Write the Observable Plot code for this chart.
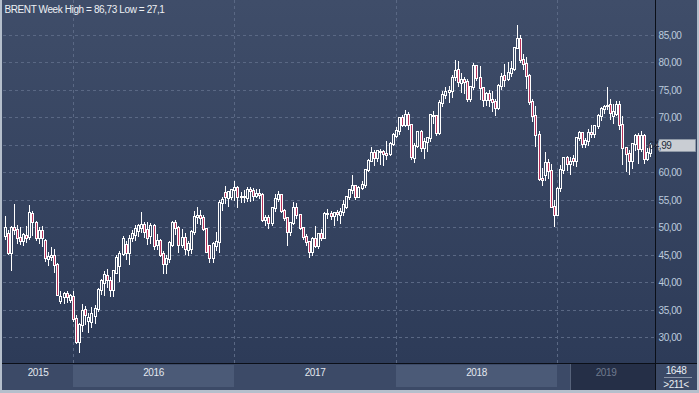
<!DOCTYPE html>
<html><head><meta charset="utf-8">
<script src="https://cdn.jsdelivr.net/npm/d3@7"></script>
<script src="https://cdn.jsdelivr.net/npm/@observablehq/plot@0.6"></script>
<style>
html,body{margin:0;padding:0;background:#b5bfcc;overflow:hidden;}
#chart{position:absolute;left:0;top:0;width:699px;height:393px;}
#chart svg{display:block;}
#chart svg text{letter-spacing:-0.4px;}
</style></head><body><div id="chart"></div>
<script>
const title = "BRENT Week High = 86,73 Low = 27,1";
const open = [
48.4,48.9,45.4,49.9,49.6,48.1,47.5,48.5,48.2,52.4,
50.9,48.0,49.3,47.5,44.3,44.6,44.9,43.2,36.6,37.3,
37.9,36.9,37.4,33.3,29.1,32.3,35.0,33.0,32.8,33.9,
35.1,38.6,39.9,41.2,40.2,38.6,41.8,43.0,45.1,46.9,
45.4,48.0,48.7,49.3,49.9,50.4,49.5,48.5,50.2,46.8,
47.6,45.2,43.3,44.3,46.9,50.8,49.9,46.9,48.0,45.9,
46.0,49.1,51.9,52.0,51.7,49.7,46.6,44.4,46.6,47.3,
54.4,56.2,55.3,55.6,56.8,57.1,55.5,55.5,55.3,56.8,
56.7,55.8,56.0,55.9,51.4,51.7,50.8,53.5,55.2,55.9,
53.0,51.7,49.1,50.8,53.6,52.2,49.9,48.2,47.4,45.5,
47.9,46.7,48.9,48.1,52.5,52.4,52.0,52.7,52.2,52.8,
53.8,55.6,56.9,57.5,55.6,57.2,57.7,60.4,62.1,63.6,
62.7,63.8,63.7,63.4,63.3,65.2,66.6,67.6,69.9,68.6,
70.5,68.6,62.6,64.8,67.4,64.4,65.5,66.2,70.3,70.2,
67.1,72.6,74.0,74.6,74.8,77.3,78.6,76.2,76.8,76.5,
73.4,75.5,79.4,77.1,75.3,73.1,74.3,73.2,72.8,71.8,
75.8,77.5,77.0,78.1,78.8,82.7,84.2,80.4,79.8,77.6,
72.8,70.2,66.8,58.8,59.5,61.7,60.3,53.8,52.2,57.1,
60.5,62.7,61.6,62.5,62.1,66.2,67.1,65.1,65.7,67.2,
67.0,68.4,70.3,71.6,72.0,72.2,70.2,70.6,72.2,68.7,
64.5,63.3,62.0,65.2,66.6,64.2,66.7,62.5,63.5];
const high = [
52.0,49.6,50.3,54.3,50.5,50.1,49.0,50.2,54.0,53.0,
51.2,50.0,50.2,47.9,45.6,46.5,46.0,43.5,38.5,38.3,
38.4,37.9,38.5,34.0,32.7,36.0,35.8,34.5,35.5,35.9,
39.0,40.6,42.0,42.5,41.0,42.3,45.0,45.8,48.5,47.6,
48.6,49.5,50.5,50.6,52.9,51.0,51.0,50.8,50.6,48.9,
47.9,45.8,45.0,47.5,51.2,51.3,50.3,49.7,49.0,47.6,
49.5,53.0,53.7,53.2,52.3,49.9,46.9,47.3,49.2,55.0,
55.5,57.6,56.5,57.0,58.4,57.6,56.4,56.8,57.3,57.3,
57.1,57.0,57.0,56.2,52.2,52.3,53.8,56.1,56.6,56.0,
53.3,51.9,51.0,54.7,54.5,52.3,50.0,48.9,47.5,48.2,
50.2,49.0,49.7,52.8,53.3,53.0,52.8,53.1,53.5,55.0,
55.8,57.0,59.5,57.7,57.5,58.5,60.6,62.4,64.7,64.0,
64.0,64.3,64.0,65.8,65.5,67.1,68.3,70.05,70.4,71.3,
71.0,68.8,65.3,67.6,67.8,66.3,66.4,70.6,71.2,70.3,
73.1,74.75,75.5,75.8,77.7,80.5,80.2,78.0,77.4,77.0,
75.7,79.9,79.6,79.4,75.5,74.6,75.0,74.8,73.3,76.0,
78.1,79.7,80.1,80.3,82.9,86.73,85.0,81.5,81.0,77.9,
73.3,72.0,67.5,60.9,63.8,62.5,61.5,55.0,57.3,61.3,
62.9,63.0,62.8,63.1,66.4,67.6,67.3,66.3,67.9,68.7,
68.5,70.6,71.9,72.3,75.6,73.4,72.5,73.0,73.0,70.2,
64.6,64.0,65.4,67.0,67.1,67.5,67.0,64.4,65.4];
const low = [
47.8,45.0,42.1,48.6,47.0,46.8,46.6,47.2,47.8,48.5,
47.6,47.0,46.5,43.7,43.0,43.9,41.7,37.6,36.0,36.1,
36.2,36.3,32.9,28.8,27.1,31.0,32.3,30.9,31.7,32.5,
34.7,37.8,37.6,39.0,37.3,37.4,41.5,40.1,44.8,44.0,
43.2,47.4,47.6,48.3,49.0,48.1,46.8,47.0,45.9,45.9,
44.6,41.6,41.5,43.5,46.5,48.6,45.3,46.2,45.0,44.9,
45.1,48.6,50.6,50.5,49.3,45.3,43.6,43.5,45.8,45.4,
53.0,54.2,53.8,55.0,54.9,53.6,54.5,54.4,54.6,54.7,
54.9,55.4,55.1,51.0,50.3,49.7,50.3,52.9,54.6,52.6,
51.1,46.6,48.4,50.4,51.6,49.5,47.7,46.6,44.4,44.8,
46.3,46.0,47.6,48.0,51.6,51.3,50.2,51.2,50.6,52.1,
53.4,55.0,56.1,55.0,55.3,56.9,57.2,60.1,61.9,61.1,
61.9,61.3,61.1,62.2,63.0,64.9,66.2,66.8,68.3,68.3,
67.8,62.2,61.8,64.4,63.8,62.4,63.8,65.5,68.9,66.6,
66.8,71.9,73.3,72.6,73.5,76.7,75.5,74.5,74.3,72.9,
72.8,75.0,76.7,73.2,71.9,72.1,71.9,71.0,70.3,71.4,
75.0,75.6,76.6,77.4,78.5,82.6,79.9,78.6,75.1,72.2,
69.2,64.6,58.4,57.5,58.4,58.9,53.5,50.0,52.0,56.5,
59.7,60.2,59.6,61.2,61.0,65.7,64.4,64.5,64.8,66.3,
66.2,67.9,69.3,70.6,71.4,69.5,68.9,70.2,67.7,61.4,
60.0,59.5,60.6,63.9,61.5,63.8,61.6,62.0,62.8];
const close = [
49.9,45.4,49.9,49.6,48.1,47.5,48.6,48.1,52.6,51.0,
48.0,49.4,48.0,44.4,44.6,44.9,43.2,37.8,37.4,37.9,
37.3,37.5,33.3,29.1,32.3,34.8,34.1,33.5,34.2,35.2,
38.7,40.2,41.3,40.4,38.6,42.0,44.4,45.1,47.9,45.4,
47.9,48.8,49.7,50.2,50.5,49.2,48.0,50.3,46.7,47.6,
45.0,43.3,44.3,47.1,50.9,49.9,46.8,48.0,46.0,47.0,
49.2,51.9,52.0,51.8,49.7,45.6,44.4,47.0,47.4,54.5,
55.0,55.6,56.4,56.8,57.1,55.5,55.5,55.5,56.8,56.7,
55.8,56.0,55.9,51.4,51.8,50.8,53.5,55.2,55.9,53.0,
51.7,49.1,50.8,53.6,52.2,49.95,48.2,47.4,45.5,47.9,
46.7,48.9,48.1,52.5,52.4,52.1,52.7,52.4,52.75,54.0,
55.6,56.9,57.5,55.6,57.2,57.75,60.4,62.1,63.5,62.7,
63.9,63.7,63.4,63.2,65.25,66.9,67.6,69.9,68.6,70.5,
68.6,62.8,64.8,67.3,64.4,65.5,66.2,70.45,70.3,67.1,
72.6,74.06,74.6,74.9,77.1,78.5,76.4,76.8,76.5,73.4,
75.55,79.4,77.1,75.3,73.1,74.3,73.2,72.8,71.8,75.8,
77.4,76.8,78.1,78.8,82.7,84.2,80.4,79.8,77.6,72.8,
70.2,66.8,58.8,58.7,61.7,60.3,53.8,52.2,57.06,60.5,
62.7,61.6,61.9,62.1,66.25,67.1,65.1,65.7,67.2,67.0,
68.4,70.3,71.55,71.97,72.15,70.85,71.0,72.2,68.7,64.5,
63.3,62.0,65.2,66.55,64.2,66.7,62.5,63.5,64.99];
const yearLabels = ["2015", "2016", "2017", "2018", "2019"];
const yearStartBar = [0, 22, 74, 126, 178];
const yTicks = [30, 35, 40, 45, 50, 55, 60, 65, 70, 75, 80, 85];
const lastPrice = 64.99;
const counterTexts = ["1648", ">211<"];
const navStartBar = 182;
const slots = 210;

const W = 699, H = 393, plotBottom = 363;
const bars = open.map((o, i) => ({i, o, h: high[i], l: low[i], c: close[i],
  top: Math.max(o, close[i]), bot: Math.min(o, close[i])}));
const downBars = bars.filter(d => d.c < d.o);
const upBars = bars.filter(d => d.c >= d.o);
const fmt = v => v.toFixed(2).replace(".", ",");
const gridColor = "#5a6884";
// the last-price tag covers any tick label that sits too close to it
const labelTicks = yTicks.filter(t => Math.abs(t - lastPrice) > 1.5);

const svg = Plot.plot({
  width: W, height: H,
  marginLeft: 3, marginRight: 44, marginTop: 0, marginBottom: H - plotBottom,
  style: {fontFamily: "'Liberation Sans', Arial, sans-serif", fontSize: "10px", background: "transparent", overflow: "visible"},
  x: {domain: [-0.5, slots - 0.5], round: true, axis: null},
  y: {domain: [25.36, 91.36], round: true, axis: null},
  marks: [
    Plot.frame({fill: "url(#bgU)", stroke: "none"}),
    Plot.ruleY(yTicks, {stroke: gridColor, strokeDasharray: "3,3"}),
    Plot.ruleX(yearStartBar.slice(1), {stroke: gridColor, strokeDasharray: "3,3"}),
    Plot.ruleX(bars, {x: "i", y1: "h", y2: "l", stroke: "#ffffff", strokeWidth: 1}),
    Plot.ruleX(bars, {x: "i", y1: "top", y2: "bot", stroke: "#ffffff", strokeWidth: 3, insetTop: -1, insetBottom: -1}),
    Plot.ruleX(upBars, {x: "i", y1: "top", y2: "bot", stroke: "url(#bgU)", strokeWidth: 1}),
    Plot.ruleX(downBars, {x: "i", y1: "top", y2: "bot", stroke: "#b8315a", strokeWidth: 1}),
    Plot.text(labelTicks, {y: d => d, text: fmt, frameAnchor: "right", dx: 3, textAnchor: "start", fill: "#bccbdd"}),
    Plot.text([title], {frameAnchor: "top-left", dx: 1, dy: 5, textAnchor: "start", lineAnchor: "top", fill: "#eef1f5"})
  ]
});

const s = d3.select(svg);
const xs = v => svg.scale("x").apply(v);
const ys = v => svg.scale("y").apply(v);
const defs = s.insert("defs", ":first-child");
const g = defs.append("linearGradient").attr("id", "bgU").attr("gradientUnits", "userSpaceOnUse")
  .attr("x1", 0).attr("y1", 0).attr("x2", 0).attr("y2", plotBottom);
g.append("stop").attr("offset", 0).attr("stop-color", "#3f4d69");
g.append("stop").attr("offset", 1).attr("stop-color", "#2d3b58");

// full background (behind plot)
const back = s.insert("g", "defs + *");
back.append("rect").attr("x", 2).attr("y", 0).attr("width", W - 4).attr("height", 390).attr("fill", "url(#bgU)");

// bottom bar and chrome (on top)
const chrome = s.append("g");
const xL = xs(-0.5), xR = xs(slots - 0.5);
chrome.append("rect").attr("x", 2).attr("y", 364).attr("width", xR - 2).attr("height", 26).attr("fill", "#3c4a67");
const segs = yearLabels.map((lab, k) => ({lab, k,
  x1: k === 0 ? xL : xs(yearStartBar[k]),
  x2: k + 1 < yearStartBar.length ? xs(yearStartBar[k + 1]) : xR}));
segs.filter(d => d.k % 2 === 1).forEach(d => {
  chrome.append("rect").attr("x", d.x1).attr("y", 365).attr("width", d.x2 - d.x1).attr("height", 22).attr("fill", "#4b5a77");
});
const xn = xs(navStartBar);
chrome.append("rect").attr("x", xn).attr("y", 364).attr("width", xR - xn).attr("height", 26).attr("fill", "#252f47");
chrome.append("line").attr("x1", xn + 0.5).attr("x2", xn + 0.5).attr("y1", 364).attr("y2", 390).attr("stroke", "#56627a");
segs.forEach(d => {
  chrome.append("text").attr("x", (d.x1 + d.x2) / 2).attr("y", 372).attr("text-anchor", "middle")
    .attr("dominant-baseline", "central").attr("fill", d.k === yearLabels.length - 1 ? "#6f7a8e" : "#e3e8ef").text(d.lab);
});
// right bottom box
chrome.append("rect").attr("x", xR + 1).attr("y", 364).attr("width", W - 2 - xR - 1).attr("height", 26).attr("fill", "#3b4966");
chrome.append("text").attr("x", (xR + W - 2) / 2).attr("y", 370).attr("text-anchor", "middle").attr("dominant-baseline", "central").attr("fill", "#e8ecf2").text(counterTexts[0]);
chrome.append("line").attr("x1", xR + 9).attr("x2", W - 7).attr("y1", 377.5).attr("y2", 377.5).attr("stroke", "#8a95a8");
chrome.append("text").attr("x", (xR + W - 2) / 2).attr("y", 384).attr("text-anchor", "middle").attr("dominant-baseline", "central").attr("fill", "#e8ecf2").text(counterTexts[1]);
// separators
chrome.append("line").attr("x1", 2).attr("x2", W - 2).attr("y1", plotBottom + 0.5).attr("y2", plotBottom + 0.5).attr("stroke", "#0b0f18");
chrome.append("line").attr("x1", xR + 0.5).attr("x2", xR + 0.5).attr("y1", 0).attr("y2", 390).attr("stroke", "#0b0f18");
// last price tag
const yp = ys(lastPrice);
chrome.append("path").attr("d", `M${xR + 1.5},${yp + 0.5} L${xR + 4.5},${yp - 5.5} L${W - 3.5},${yp - 5.5} L${W - 3.5},${yp + 6.5} L${xR + 4.5},${yp + 6.5} Z`)
  .attr("fill", "#c9cdd3").attr("stroke", "#8e98a6");
chrome.append("text").attr("x", xR + 5).attr("y", yp + 0.5).attr("dominant-baseline", "central").attr("fill", "#222a3a").text(fmt(lastPrice));

document.getElementById("chart").appendChild(svg);
</script>
</body></html>
